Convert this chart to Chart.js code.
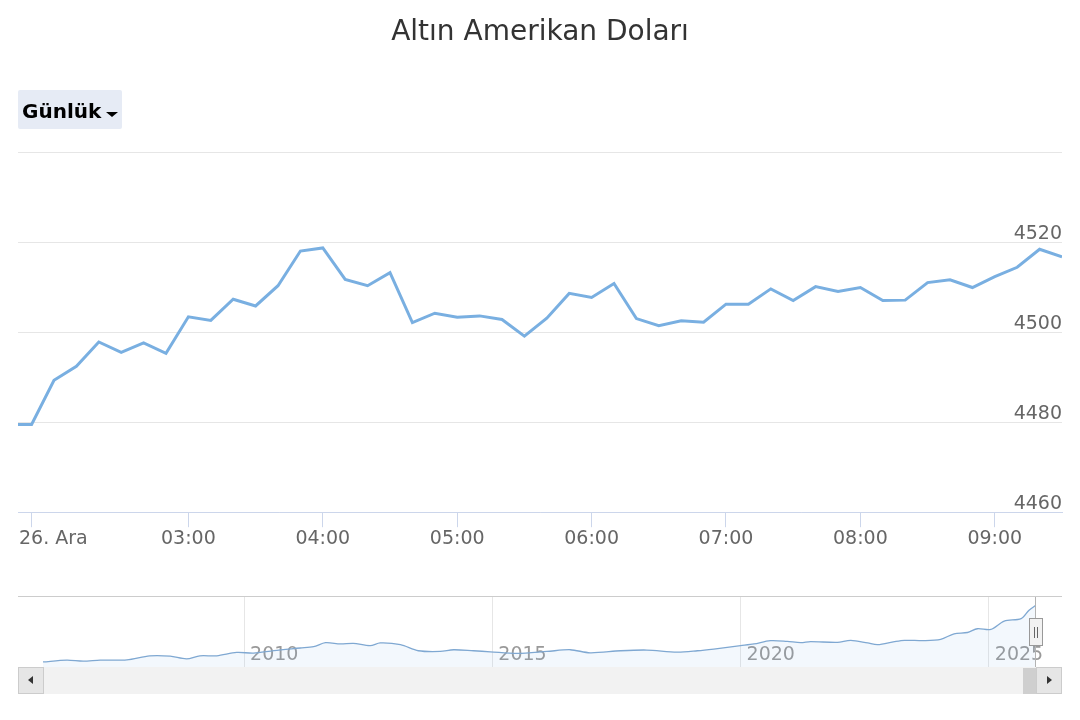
<!DOCTYPE html>
<html>
<head>
<meta charset="utf-8">
<script src="https://cdn.jsdelivr.net/npm/chart.js@4/dist/chart.umd.min.js"></script>
<style>
html,body{margin:0;padding:0;background:#fff;}
#wrap{position:relative;width:1080px;height:720px;overflow:hidden;font-family:"DejaVu Sans",sans-serif;}
#main{position:absolute;left:0;top:0;}
#nav{position:absolute;left:0;top:590px;}
.btn{position:absolute;left:18px;top:90px;width:104px;height:39px;background:#e6ebf5;border-radius:2px;}
.btn span{position:absolute;left:4px;top:0;font:bold 20px "DejaVu Sans",sans-serif;line-height:42px;color:#000;}
.btn i{position:absolute;left:88px;top:22px;width:0;height:0;border-left:6px solid transparent;border-right:6px solid transparent;border-top:5px solid #000;}
.navtop{position:absolute;left:18px;top:596px;width:1044px;height:0;border-top:1px solid #cccccc;}
.track{position:absolute;left:18px;top:667px;width:1044px;height:27px;background:#f2f2f2;}
.sbtn{position:absolute;top:667px;width:24px;height:25px;background:#e6e6e6;border:1px solid #cccccc;}
.sbtn.l{left:18px;}
.sbtn.r{left:1036px;}
.arrL{position:absolute;left:9px;top:8px;width:0;height:0;border-top:4px solid transparent;border-bottom:4px solid transparent;border-right:5px solid #333;}
.arrR{position:absolute;left:10px;top:8px;width:0;height:0;border-top:4px solid transparent;border-bottom:4px solid transparent;border-left:5px solid #333;}
.thumb{position:absolute;left:1023px;top:668px;width:13px;height:26px;background:#cfcfcf;}
.vline{position:absolute;left:1035px;top:597px;width:1px;height:70px;background:#b3b3b3;}
.handle{position:absolute;left:1029px;top:618px;width:12px;height:26px;background:#f2f2f2;border:1px solid #999;}
.handle b{position:absolute;top:8px;width:1px;height:11px;background:#666;}
</style>
</head>
<body>
<div id="wrap">
  <canvas id="main" width="1080" height="560"></canvas>
  <div class="navtop"></div>
  <canvas id="nav" width="1080" height="85"></canvas>
  <div class="track"></div>
  <div class="sbtn l"><i class="arrL"></i></div>
  <div class="thumb"></div>
  <div class="sbtn r"><i class="arrR"></i></div>
  <div class="vline"></div>
  <div class="handle"><b style="left:4px"></b><b style="left:7px"></b></div>
  <div class="btn"><span>Günlük</span><i></i></div>
</div>
<script>
// ---- main series (10-minute ordinal slots; first slot lies just before the visible range) ----
const prices = [
  4479.5, 4479.5, 4489.3, 4492.4, 4497.8, 4495.5, 4497.6, 4495.3,
  4503.4, 4502.6, 4507.3, 4505.8, 4510.3, 4518.0, 4518.7, 4511.7,
  4510.3, 4513.2, 4502.1, 4504.2, 4503.3, 4503.6, 4502.8, 4499.1,
  4503.1, 4508.6, 4507.7, 4510.8, 4503.0, 4501.4, 4502.5, 4502.2,
  4506.2, 4506.2, 4509.6, 4507.0, 4510.1, 4509.0, 4509.9, 4507.0,
  4507.1, 4511.0, 4511.6, 4509.9, 4512.3, 4514.4, 4518.4, 4516.7
];
const slotOffset = -1;
const xTickSlots  = [0, 7, 13, 19, 25, 31, 37, 43];
const xTickLabels = ['26. Ara', '03:00', '04:00', '05:00', '06:00', '07:00', '08:00', '09:00'];
const yTickValues = [4460, 4480, 4500, 4520, 4540];
const yTickLabels = ['4460', '4480', '4500', '4520', ''];
const yMin = 4460, yMax = 4540;
const xMin = -0.607, xMax = 46;

// ---- navigator series (long history) ----
const navYears = [
  2005.95, 2006.43, 2006.76, 2007.10, 2007.64, 2008.10, 2008.51, 2008.84, 2009.11, 2009.45,
  2009.85, 2010.19, 2010.60, 2011.13, 2011.40, 2011.64, 2011.94, 2012.20, 2012.54, 2012.74,
  2013.15, 2013.51, 2013.95, 2014.22, 2014.62, 2014.96, 2015.50, 2016.10, 2016.57, 2016.97,
  2017.58, 2018.11, 2018.72, 2019.13, 2019.46, 2020.00, 2020.27, 2020.60, 2020.94, 2021.21,
  2021.41, 2021.95, 2022.22, 2022.56, 2022.76, 2023.10, 2023.30, 2023.70, 2024.03, 2024.30,
  2024.57, 2024.77, 2025.04, 2025.31, 2025.65, 2025.81, 2025.95
];
const navPrices = [
  599, 717, 648, 717, 738, 1017, 996, 808, 1017, 1017,
  1247, 1205, 1380, 1553, 1643, 1922, 1831, 1873, 1713, 1901,
  1783, 1365, 1316, 1435, 1365, 1295, 1180, 1316, 1435, 1226,
  1365, 1414, 1274, 1365, 1483, 1713, 1831, 2061, 2012, 1922,
  1992, 1943, 2082, 1901, 1783, 1992, 2082, 2061, 2152, 2528,
  2618, 2876, 2827, 3405, 3572, 4150, 4499
];
const navTickYears  = [2010, 2015, 2020, 2025];
const navTickLabels = ['2010', '2015', '2020', '2025'];
const navMinYear = 2005.95, navMaxYear = 2025.95;
const navMinPrice = 181, navMaxPrice = 5056;

Chart.defaults.font.family = '"DejaVu Sans", sans-serif';
Chart.defaults.animation = false;

const justifyFirst = {
  id: 'justifyFirst',
  beforeDraw(chart) {
    const items = chart.scales.x.getLabelItems();
    if (items.length) {
      items[0].options.textAlign = 'left';
      items[0].options.translation[0] = chart.chartArea.left + 1;
    }
  }
};
const noLabelPadding = s => { s.paddingLeft = 0; s.paddingRight = 0; s.paddingTop = 0; s.paddingBottom = 0; };

new Chart(document.getElementById('main'), {
  type: 'line',
  data: {
    datasets: [{
      data: prices.map((v, i) => ({ x: i + slotOffset, y: v })),
      borderColor: '#79afe1',
      borderWidth: 3,
      pointRadius: 0,
      tension: 0,
      fill: false
    }]
  },
  options: {
    responsive: false,
    devicePixelRatio: 1,
    layout: { autoPadding: false, padding: { left: 18, right: 18, top: 0, bottom: 10 } },
    plugins: {
      legend: { display: false },
      tooltip: { enabled: false },
      title: {
        display: true,
        text: 'Altın Amerikan Doları',
        color: '#333333',
        font: { size: 28, weight: 'normal' },
        padding: { top: 16, bottom: 102.4 }
      }
    },
    scales: {
      x: {
        type: 'linear',
        min: xMin, max: xMax,
        afterBuildTicks: a => { a.ticks = xTickSlots.map(v => ({ value: v })); },
        afterFit: noLabelPadding,
        ticks: {
          callback: (v, i) => xTickLabels[i],
          color: '#666666',
          font: { size: 19 },
          padding: 0,
          maxRotation: 0,
          autoSkip: false
        },
        grid: { drawOnChartArea: false, drawTicks: true, tickLength: 15, color: '#ccd6eb' },
        border: { display: true, color: '#ccd6eb', width: 1 }
      },
      y: {
        position: 'right',
        min: yMin, max: yMax,
        afterBuildTicks: a => { a.ticks = yTickValues.map(v => ({ value: v })); },
        afterFit: noLabelPadding,
        ticks: {
          mirror: true,
          callback: (v, i) => yTickLabels[i],
          color: '#666666',
          font: { size: 19 },
          padding: 0,
          labelOffset: -8
        },
        grid: { color: '#e6e6e6', lineWidth: 1, drawTicks: false },
        border: { display: false }
      }
    }
  },
  plugins: [justifyFirst]
});

new Chart(document.getElementById('nav'), {
  type: 'line',
  data: {
    datasets: [{
      data: navYears.map((yr, i) => ({ x: yr, y: navPrices[i] })),
      borderColor: '#7fa8d2',
      borderWidth: 1.3,
      backgroundColor: 'rgba(124,181,236,0.09)',
      fill: 'start',
      pointRadius: 0,
      tension: 0.3
    }]
  },
  options: {
    responsive: false,
    devicePixelRatio: 1,
    layout: { autoPadding: false, padding: { left: 43, right: 44, top: 7, bottom: 3 } },
    plugins: { legend: { display: false }, tooltip: { enabled: false } },
    scales: {
      x: {
        type: 'linear',
        min: navMinYear, max: navMaxYear,
        afterBuildTicks: a => { a.ticks = navTickYears.map(v => ({ value: v })); },
        afterFit: noLabelPadding,
        ticks: {
          mirror: true,
          align: 'start',
          labelOffset: 6,
          padding: 2,
          callback: (v, i) => navTickLabels[i],
          color: '#999999',
          font: { size: 19 },
          maxRotation: 0,
          autoSkip: false
        },
        grid: { color: '#e6e6e6', drawTicks: false },
        border: { display: false }
      },
      y: { display: false, min: navMinPrice, max: navMaxPrice }
    }
  }
});
</script>
</body>
</html>
